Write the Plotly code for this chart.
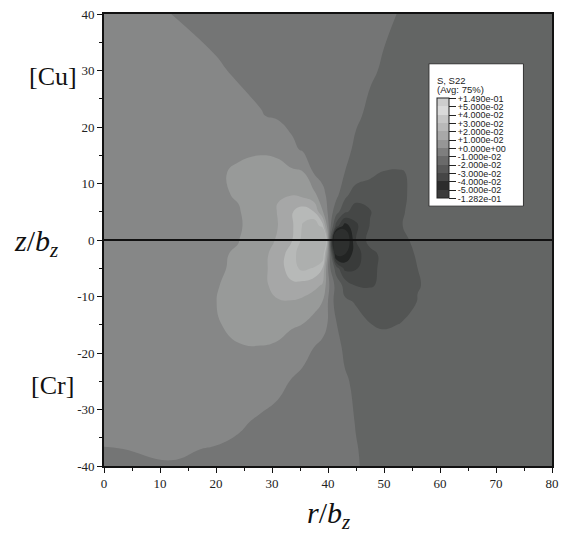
import plotly.graph_objects as go

# ---- data (S22 in units of 1e-2) ----
r_pos = [0, 12, 20, 24, 28, 31, 33.5, 35.5, 37.5, 39, 40.3, 41.5, 43, 45, 47.5, 50, 53, 56, 62, 80]
z_pos = [40, 30, 22, 16, 12, 8, 5, 2.5, 0, -2.5, -5, -8, -11, -15, -19, -25, -32, -37, -40]

s_p40 = [1.55, 1.0, 0.80, 0.70, 0.60, 0.53, 0.47, 0.42, 0.37, 0.33, 0.30, 0.27, 0.23, 0.18, 0.12, 0.06, -0.02, -0.10, -0.25, -0.60]
s_p30 = [1.6, 1.3, 1.07, 0.93, 0.78, 0.66, 0.57, 0.50, 0.42, 0.37, 0.32, 0.27, 0.22, 0.14, 0.05, -0.04, -0.13, -0.2, -0.32, -0.6]
s_p22 = [1.6, 1.48, 1.3, 1.18, 1.04, 0.89, 0.74, 0.62, 0.50, 0.41, 0.34, 0.27, 0.18, 0.06, -0.08, -0.17, -0.25, -0.32, -0.42, -0.6]
s_p16 = [1.6, 1.58, 1.7, 1.85, 1.9, 1.82, 1.2, 0.9, 0.7, 0.54, 0.40, 0.28, 0.12, -0.08, -0.26, -0.4, -0.48, -0.5, -0.55, -0.6]
s_p12 = [1.6, 1.62, 1.88, 2.12, 2.3, 2.28, 2.18, 2.05, 0.9, 0.55, 0.36, 0.18, 0.0, -0.3, -0.7, -1.05, -1.06, -0.82, -0.68, -0.62]
s_p8 = [1.6, 1.67, 1.85, 2.08, 2.65, 2.98, 2.96, 2.7, 2.25, 1.4, 0.5, 0.25, -0.69, -1.6, -1.7, -1.5, -1.12, -0.8, -0.68, -0.63]
s_p5 = [1.6, 1.72, 1.88, 1.93, 2.6, 3.02, 3.9, 4.6, 4.0, 2.1, 0.55, -0.6, -1.8, -2.45, -2.05, -1.65, -1.05, -0.85, -0.7, -0.65]
s_p2 = [1.6, 1.75, 1.9, 1.9, 2.45, 2.98, 3.8, 5.1, 5.9, 4.5, 0.5, -2.5, -4.5, -3.2, -1.95, -1.5, -1.02, -0.85, -0.7, -0.65]
s_0 = [1.6, 1.78, 1.92, 1.98, 2.5, 3.1, 3.9, 5.3, 7.0, 10.0, 0.0, -9.0, -6.5, -3.0, -1.6, -1.35, -1.08, -0.92, -0.75, -0.65]
s_m2 = [1.6, 1.8, 1.92, 2.06, 2.75, 3.3, 4.6, 5.6, 6.2, 6.0, 0.4, -5.5, -5.0, -3.4, -2.35, -1.7, -1.2, -0.95, -0.78, -0.66]
s_m5 = [1.62, 1.82, 1.9, 2.12, 2.72, 3.4, 4.6, 5.25, 4.9, 4.0, 0.2, -1.5, -3.3, -3.1, -2.27, -1.75, -1.28, -1.0, -0.8, -0.67]
s_m8 = [1.63, 1.83, 1.95, 2.25, 2.75, 3.3, 3.75, 3.6, 3.3, 2.9, 0.9, -0.4, -1.3, -2.05, -2.1, -1.8, -1.35, -1.02, -0.82, -0.68]
s_m11 = [1.65, 1.84, 1.99, 2.35, 2.75, 2.92, 2.9, 2.75, 2.4, 1.98, 0.7, -0.5, -0.85, -1.05, -1.4, -1.45, -1.3, -0.98, -0.83, -0.68]
s_m15 = [1.66, 1.82, 1.93, 2.2, 2.35, 2.25, 2.1, 1.98, 1.6, 1.3, 0.85, 0.05, -0.45, -0.75, -0.98, -1.1, -0.97, -0.88, -0.8, -0.68]
s_m19 = [1.66, 1.8, 1.88, 1.95, 1.97, 1.9, 1.6, 1.3, 1.0, 0.8, 0.6, 0.25, -0.15, -0.35, -0.5, -0.6, -0.7, -0.72, -0.72, -0.68]
s_m25 = [1.62, 1.72, 1.75, 1.7, 1.5, 1.25, 0.95, 0.78, 0.62, 0.5, 0.4, 0.28, 0.1, -0.15, -0.32, -0.45, -0.55, -0.6, -0.65, -0.68]
s_m32 = [1.45, 1.45, 1.35, 1.15, 0.88, 0.72, 0.6, 0.5, 0.42, 0.35, 0.3, 0.22, 0.12, -0.02, -0.18, -0.3, -0.42, -0.5, -0.58, -0.68]
s_m37 = [0.96, 1.1, 0.95, 0.82, 0.67, 0.57, 0.5, 0.44, 0.38, 0.32, 0.27, 0.2, 0.12, 0.02, -0.1, -0.22, -0.35, -0.45, -0.55, -0.68]
s_m40 = [0.9, 0.95, 0.88, 0.78, 0.65, 0.55, 0.48, 0.42, 0.34, 0.28, 0.24, 0.18, 0.11, 0.03, -0.08, -0.2, -0.32, -0.42, -0.52, -0.68]

rows_top_down = [s_p40, s_p30, s_p22, s_p16, s_p12, s_p8, s_p5, s_p2, s_0, s_m2, s_m5,
                 s_m8, s_m11, s_m15, s_m19, s_m25, s_m32, s_m37, s_m40]

x_ticks = [0, 10, 20, 30, 40, 50, 60, 70, 80]
y_ticks = [-40, -30, -20, -10, 0, 10, 20, 30, 40]
y_tick_text = ['-40', '-30', '-20', '-10', '0', '10', '20', '30', '40']

legend_labels = ['-1.282e-01', '-5.000e-02', '-4.000e-02', '-3.000e-02', '-2.000e-02',
                 '-1.000e-02', '+0.000e+00', '+1.000e-02', '+2.000e-02', '+3.000e-02',
                 '+4.000e-02', '+5.000e-02', '+1.490e-01']

# band colours, lowest band first (in plot / in legend)
plot_colors = ['#2d2f2e', '#222423', '#393b3a', '#454746', '#535554', '#636564',
               '#747575', '#868787', '#989a99', '#a6a7a7', '#b7b9b8', '#adafae']
legend_colors = ['#3a3a3a', '#2c2c2c', '#464646', '#585858', '#6a6a6a', '#7e7e7e',
                 '#969696', '#a8a8a8', '#b8b8b8', '#c6c6c6', '#dadada', '#cdcdcd']

n_b = len(plot_colors)
cs_plot = [[k / (n_b - 1), c] for k, c in enumerate(plot_colors)]
cs_leg = []
for k, c in enumerate(legend_colors):
    cs_leg.append([k / n_b, c])
    cs_leg.append([(k + 1) / n_b, c])

SERIF = 'Liberation Serif, Times New Roman, serif'
SANS = 'Liberation Sans, Arial, sans-serif'

fig = go.Figure()
fig.add_trace(go.Contour(
    x=r_pos, y=z_pos[::-1], z=rows_top_down[::-1],
    contours=dict(start=-5, end=5, size=1, coloring='fill', showlines=False),
    line=dict(width=0, smoothing=1.3),
    colorscale=cs_plot, showscale=False, hoverinfo='skip'))

# legend (ABAQUS style) drawn as colour bar of a hidden helper trace
fig.add_trace(go.Heatmap(
    z=[[0, 12]], x=[0, 1], y=[0], xaxis='x2', yaxis='y2',
    zmin=0, zmax=12, colorscale=cs_leg, hoverinfo='skip',
    colorbar=dict(
        x=(442.7 - 104) / 455, xanchor='left', xpad=0, ypad=0,
        y=(466 - 147) / 454, yanchor='middle',
        len=99.5, lenmode='pixels', thickness=12,
        outlinewidth=1, outlinecolor='#222222',
        tickmode='array', tickvals=list(range(13)), ticktext=legend_labels,
        ticks='outside', ticklen=7, tickwidth=1, tickcolor='#222222',
        tickfont=dict(family=SANS, size=9, color='#222222'))))

axis_common = dict(showgrid=False, zeroline=False, showline=True, linecolor='#111111',
                   linewidth=1.6, mirror=True, ticks='outside', ticklen=5, tickwidth=1.2,
                   tickcolor='#111111',
                   tickfont=dict(family=SERIF, size=13, color='#222222'))

fig.update_layout(
    width=566, height=538,
    margin=dict(l=104, r=7, t=12, b=72),
    paper_bgcolor='white', plot_bgcolor='white',
    font=dict(family=SERIF, color='#222222'),
    showlegend=False,
    xaxis=dict(range=[0, 80], tickmode='array', tickvals=x_ticks,
               ticktext=[str(v) for v in x_ticks],
               minor=dict(dtick=5, tick0=0, ticks='outside', ticklen=3, tickcolor='#111111'),
               **axis_common),
    yaxis=dict(range=[-40, 40], tickmode='array', tickvals=y_ticks, ticktext=y_tick_text,
               minor=dict(dtick=5, tick0=0, ticks='outside', ticklen=3, tickcolor='#111111'),
               **axis_common),
    xaxis2=dict(overlaying='x', visible=False, range=[5, 6]),
    yaxis2=dict(overlaying='y', visible=False, range=[5, 6]),
)

# interface line z = 0
fig.add_shape(type='line', xref='x', yref='y', x0=0, x1=80, y0=0, y1=0,
              line=dict(color='#111111', width=2))

# legend box
fig.add_shape(type='rect', xref='paper', yref='paper', layer='above',
              x0=(434 - 104) / 455, x1=(530 - 104) / 455,
              y0=(466 - 205) / 454, y1=(466 - 62) / 454,
              fillcolor='white', line=dict(color='#333333', width=1))

lab_font = dict(family=SANS, size=9.5, color='#222222')
fig.add_annotation(text='S, S22', xref='paper', yref='paper', showarrow=False,
                   x=(440 - 104) / 455, y=(466 - 78.5) / 454, xanchor='left', yanchor='middle',
                   font=lab_font)
fig.add_annotation(text='(Avg: 75%)', xref='paper', yref='paper', showarrow=False,
                   x=(440 - 104) / 455, y=(466 - 88) / 454, xanchor='left', yanchor='middle',
                   font=lab_font)

fig.add_annotation(text='[Cu]', xref='paper', yref='paper', showarrow=False,
                   x=(52 - 104) / 455, y=(466 - 75) / 454, xanchor='center', yanchor='middle',
                   font=dict(family=SERIF, size=26, color='#111111'))
fig.add_annotation(text='[Cr]', xref='paper', yref='paper', showarrow=False,
                   x=(52 - 104) / 455, y=(466 - 385) / 454, xanchor='center', yanchor='middle',
                   font=dict(family=SERIF, size=26, color='#111111'))
fig.add_annotation(text='<i>z</i>/<i>b<sub>z</sub></i>', xref='paper', yref='paper', showarrow=False,
                   x=(35 - 104) / 455, y=(466 - 242) / 454, xanchor='center', yanchor='middle',
                   font=dict(family=SERIF, size=30, color='#111111'))
fig.add_annotation(text='<i>r</i>/<i>b<sub>z</sub></i>', xref='paper', yref='paper', showarrow=False,
                   x=(332 - 104) / 455, y=(466 - 515) / 454, xanchor='center', yanchor='middle',
                   font=dict(family=SERIF, size=30, color='#111111'))

fig.write_html('out.html')
